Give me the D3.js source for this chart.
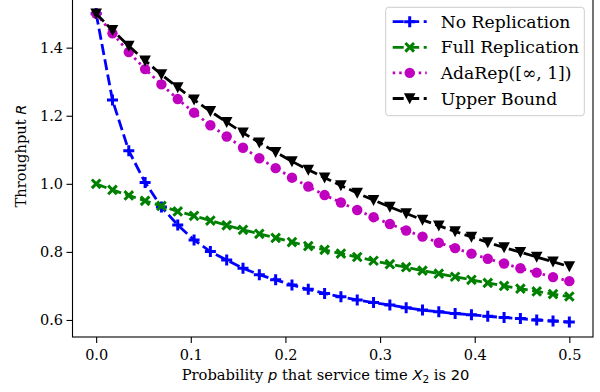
<!DOCTYPE html>
<html>
<head>
<meta charset="utf-8">
<script src="https://cdn.jsdelivr.net/npm/d3@7"></script>
<style>
  body { margin: 0; background: #fff; }
  svg { display: block; }
  text { font-family: "DejaVu Serif", serif; fill: #000; }
  .math { font-family: "DejaVu Sans", sans-serif; font-style: italic; }
  .sans { font-family: "DejaVu Sans", sans-serif; }
</style>
</head>
<body>
<svg width="600" height="392"></svg>
<script>
// probability p (30 points from 0 to 0.5)
const pValues = d3.range(30).map(i => i * 0.5 / 29);

const noReplication = [1.500, 1.246, 1.097, 1.004, 0.932, 0.879, 0.835, 0.801, 0.776, 0.752,
  0.733, 0.718, 0.703, 0.690, 0.678, 0.668, 0.659, 0.651, 0.644, 0.636,
  0.629, 0.624, 0.619, 0.615, 0.611, 0.607, 0.604, 0.600, 0.597, 0.594];
const fullReplication = [1.000, 0.982, 0.966, 0.950, 0.935, 0.919, 0.906, 0.892, 0.878, 0.865,
  0.853, 0.841, 0.829, 0.817, 0.806, 0.795, 0.785, 0.774, 0.764, 0.755,
  0.745, 0.736, 0.727, 0.718, 0.709, 0.700, 0.692, 0.684, 0.676, 0.669];
const adaRep = [1.500, 1.442, 1.387, 1.337, 1.292, 1.249, 1.209, 1.172, 1.139, 1.106,
  1.075, 1.046, 1.018, 0.992, 0.967, 0.945, 0.923, 0.902, 0.882, 0.863,
  0.845, 0.827, 0.811, 0.795, 0.780, 0.766, 0.752, 0.739, 0.726, 0.714];
const upperBound = [1.500, 1.451, 1.405, 1.362, 1.321, 1.283, 1.247, 1.213, 1.181, 1.150,
  1.121, 1.093, 1.066, 1.041, 1.018, 0.995, 0.973, 0.952, 0.932, 0.913,
  0.894, 0.877, 0.860, 0.844, 0.828, 0.813, 0.799, 0.785, 0.771, 0.757];

const xTicks = [0.0, 0.1, 0.2, 0.3, 0.4, 0.5];
const yTicks = [0.6, 0.8, 1.0, 1.2, 1.4];

const seriesList = [
  { name: 'No Replication', values: noReplication, color: '#0000ff', dash: '11,4.5', marker: 'plus' },
  { name: 'Full Replication', values: fullReplication, color: '#008000', dash: '11,4.5', marker: 'cross' },
  { name: 'AdaRep([\u221E, 1])', values: adaRep, color: '#bf00bf', dash: '2.5,4', marker: 'circle' },
  { name: 'Upper Bound', values: upperBound, color: '#000000', dash: '11,4.5', marker: 'tri' }
];

const svg = d3.select('svg');
const plotLeft = 72.5, plotRight = 593, plotTop = -1.7, plotBottom = 337;

const x = d3.scaleLinear().domain([-0.025, 0.525]).range([plotLeft, plotRight]);
const y = d3.scaleLinear().domain([0.55, 1.545]).range([plotBottom, plotTop]);

const plotG = svg.append('g');

// draw a marker of the given kind
const drawMarker = (g, kind, color) => {
  if (kind === 'plus') {
    g.append('path').attr('d', 'M-5.5,0H5.5M0,-5.5V5.5')
      .attr('stroke', color).attr('stroke-width', 3).attr('fill', 'none');
  } else if (kind === 'cross') {
    g.append('path').attr('d', 'M-4.3,-4.3L4.3,4.3M-4.3,4.3L4.3,-4.3')
      .attr('stroke', color).attr('stroke-width', 3).attr('fill', 'none');
  } else if (kind === 'circle') {
    g.append('circle').attr('r', 5.2).attr('fill', color);
  } else {
    g.append('path').attr('d', 'M-5.8,-5.2L5.8,-5.2L0,5.8Z').attr('fill', color);
  }
};

const line = d3.line().x((d, i) => x(pValues[i])).y(d => y(d));

seriesList.forEach(s => {
  const g = plotG.append('g');
  g.append('path')
    .attr('d', line(s.values))
    .attr('fill', 'none')
    .attr('stroke', s.color)
    .attr('stroke-width', 2.8)
    .attr('stroke-dasharray', s.dash);
  s.values.forEach((v, i) => {
    const m = g.append('g').attr('transform', `translate(${x(pValues[i])},${y(v)})`);
    drawMarker(m, s.marker, s.color);
  });
});

// axes
const xAxis = d3.axisBottom(x).tickValues(xTicks).tickFormat(d3.format('.1f')).tickSizeOuter(0).tickSize(6).tickPadding(6.5);
const yAxis = d3.axisLeft(y).tickValues(yTicks).tickFormat(d3.format('.1f')).tickSizeOuter(0).tickSize(6).tickPadding(3.5);

const xAxisG = svg.append('g').attr('transform', `translate(0,${plotBottom})`).call(xAxis);
const yAxisG = svg.append('g').attr('transform', `translate(${plotLeft},0)`).call(yAxis);
[xAxisG, yAxisG].forEach(g => {
  g.select('.domain').remove();
  g.selectAll('text').style('font-family', '"DejaVu Serif", serif').style('font-size', '14.5px');
  g.selectAll('line').attr('stroke-width', 1.1);
});

// spines
svg.append('rect')
  .attr('x', plotLeft).attr('y', plotTop)
  .attr('width', plotRight - plotLeft).attr('height', plotBottom - plotTop)
  .attr('fill', 'none').attr('stroke', '#000').attr('stroke-width', 1.1);

// axis labels
const xLabel = svg.append('text')
  .attr('x', 181.7).attr('y', 380)
  .style('font-size', '14.7px');
xLabel.append('tspan').text('Probability ');
xLabel.append('tspan').attr('class', 'math').text('p');
xLabel.append('tspan').text(' that service time ');
xLabel.append('tspan').attr('class', 'math').text('X');
xLabel.append('tspan').attr('class', 'sans').attr('dy', 3).style('font-size', '10.5px').text('2');
xLabel.append('tspan').attr('dy', -3).text(' is ');
xLabel.append('tspan').attr('class', 'sans').text('20');

const yLabel = svg.append('text')
  .attr('transform', 'translate(26,156) rotate(-90)')
  .attr('text-anchor', 'middle')
  .style('font-size', '14.7px');
yLabel.append('tspan').text('Throughput ');
yLabel.append('tspan').attr('class', 'math').text('R');

// legend
const legendG = svg.append('g').attr('transform', 'translate(385.7,7.3)');
legendG.append('rect')
  .attr('width', 198.6).attr('height', 108.4).attr('rx', 3)
  .attr('fill', '#fff').attr('fill-opacity', 0.8)
  .attr('stroke', '#cccccc').attr('stroke-width', 1);

seriesList.forEach((s, i) => {
  const rowY = 14.4 + i * 25.6;
  const row = legendG.append('g').attr('transform', `translate(0,${rowY})`);
  row.append('line')
    .attr('x1', 7).attr('x2', 41)
    .attr('stroke', s.color).attr('stroke-width', 2.8)
    .attr('stroke-dasharray', s.dash);
  const m = row.append('g').attr('transform', 'translate(24,0)');
  drawMarker(m, s.marker, s.color);
  row.append('text')
    .attr('x', 55).attr('dy', '0.35em')
    .style('font-size', '17.2px')
    .text(s.name);
});
</script>
</body>
</html>
